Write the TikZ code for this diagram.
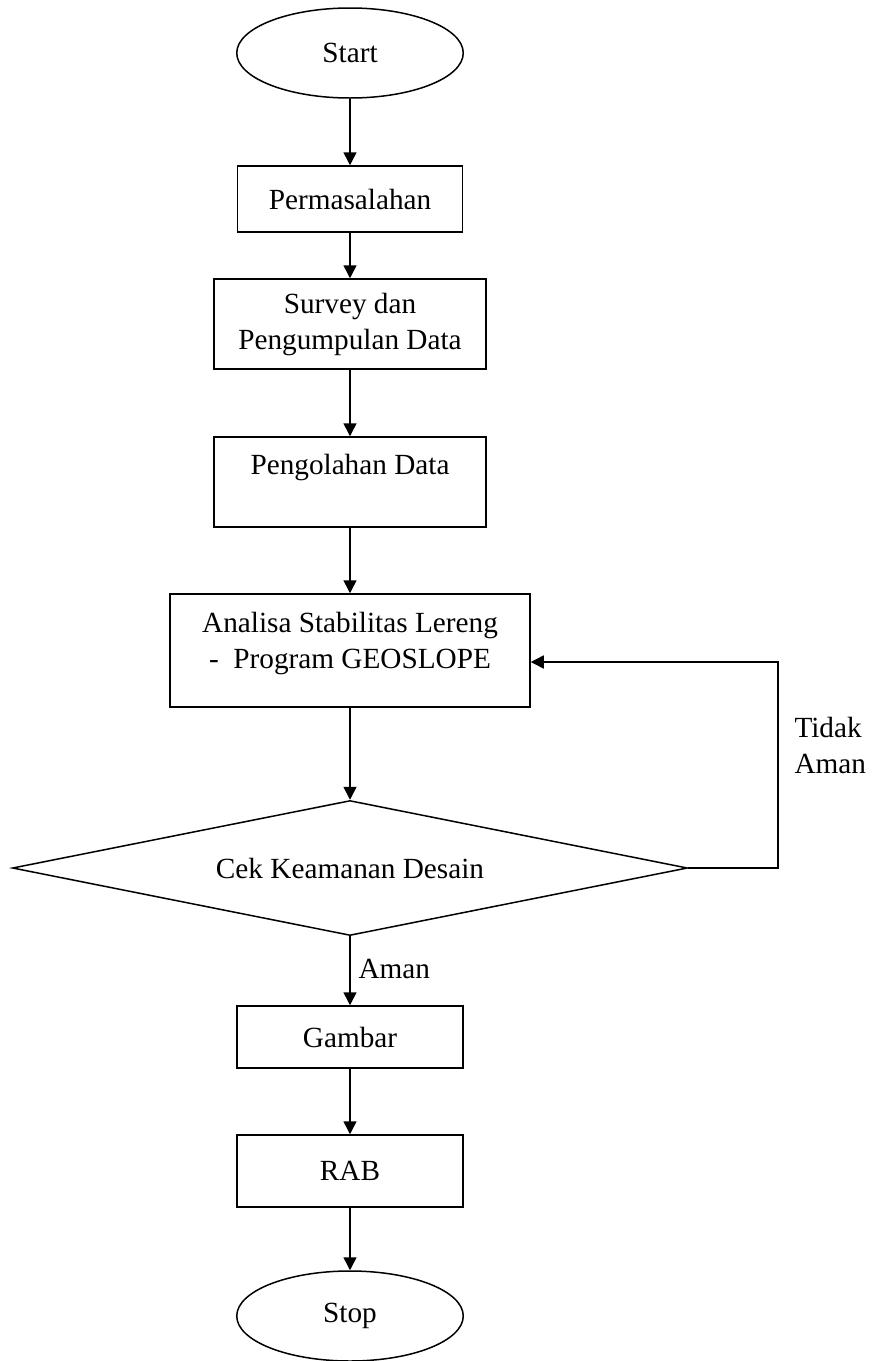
\documentclass[tikz,border=0pt]{standalone}
\usepackage{fontspec}
\setmainfont{Liberation Serif}
\usetikzlibrary{shapes.geometric,arrows.meta}
\begin{document}
\begin{tikzpicture}[x=0.4pt, y=-0.4pt, every node/.style={font=\fontsize{11.7}{14.4}\selectfont}]
\tikzset{box/.style={draw, line width=0.6pt, inner sep=0pt, align=center},
  term/.style={box, ellipse, minimum width=90.6pt, minimum height=36pt},
  cond/.style={box, diamond, aspect=5},
  lbl/.style={inner sep=0pt, align=left},
  arr/.style={-{Triangle[length=5.2pt,width=5.2pt]}, line width=0.6pt}}
\useasboundingbox (0,0) rectangle (874,1361);
% start and steps
\node[term] (start) at (350,53) {Start};
\node[box, minimum width=90pt, minimum height=26.4pt] (perm) at (350,199) {Permasalahan};
\node[box, minimum width=108.8pt, minimum height=36pt] (survey) at (350,324) {Survey dan\\Pengumpulan Data};
\node[box, minimum width=108.8pt, minimum height=36pt] (olah) at (350,482) {Pengolahan Data\\~};
\node[box, minimum width=144pt, minimum height=45.2pt] (analisa) at (350,650.5) {Analisa Stabilitas Lereng\\-~~Program GEOSLOPE\\[-6pt]\mbox{}};
% check
\node[cond, minimum width=270pt, minimum height=54pt] (cek) at (350,868) {Cek Keamanan Desain};
\node[box, minimum width=90.4pt, minimum height=24.8pt] (gambar) at (350,1037) {Gambar};
\node[box, minimum width=90.4pt, minimum height=28.8pt] (rab) at (350,1171) {RAB};
\node[term] (stop) at (350,1316) {Stop};
% labels
\node[lbl, anchor=base west] (aman) at (358,978) {Aman};
\node[lbl, anchor=west] (tidak) at (794,745) {Tidak\\Aman};
% arrows
\draw[arr] (start) -- (perm);
\draw[arr] (perm) -- (survey);
\draw[arr] (survey) -- (olah);
\draw[arr] (olah) -- (analisa);
\draw[arr] (analisa) -- (cek);
\draw[arr] (cek) -- (gambar);
\draw[arr] (gambar) -- (rab);
\draw[arr] (rab) -- (stop);
\coordinate (back) at (778,662);
\draw[arr] (cek.east) -| (back) -- (analisa.east |- back);
\end{tikzpicture}
\end{document}
